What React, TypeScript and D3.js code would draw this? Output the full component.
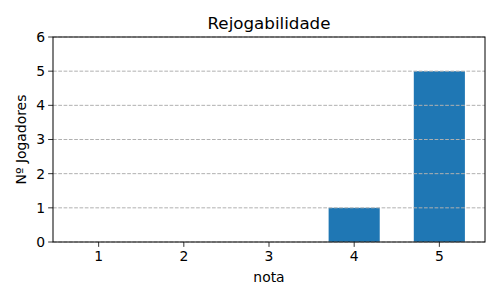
import React from "react";
import * as d3 from "d3";

const categories = [1, 2, 3, 4, 5];
const counts = [0, 0, 0, 1, 5];
const yTicks = [0, 1, 2, 3, 4, 5, 6];
const title = "Rejogabilidade";
const xLabel = "nota";
const yLabel = "Nº Jogadores";

export default function App() {
  const W = 500, H = 300;
  const left = 53, right = 485, top = 37, bottom = 242;
  const x = d3.scaleLinear().domain([0.464, 5.536]).range([left, right]);
  const y = d3.scaleLinear().domain([0, 6]).range([bottom, top]);
  const bw = x(1.3) - x(0.7);
  const font = "DejaVu Sans, sans-serif";
  return (
    <svg width={W} height={H} style={{ position: "absolute", left: 0, top: 0, background: "#fff" }} fontFamily={font}>
      <rect x={0} y={0} width={W} height={H} fill="#fff" />
      {categories.map((c, i) => (
        <rect key={c} x={x(c) - bw / 2} y={y(counts[i])} width={bw} height={y(0) - y(counts[i])} fill="#1f77b4" />
      ))}
      {yTicks.map((t) => (
        <line key={"g" + t} x1={left} x2={right} y1={y(t)} y2={y(t)} stroke="#b0b0b0" strokeWidth={1} strokeDasharray="3.7,1.6" />
      ))}
      <rect x={left} y={top} width={right - left} height={bottom - top} fill="none" stroke="#000" strokeWidth={1} />
      {yTicks.map((t) => (
        <g key={"y" + t}>
          <line x1={left - 4.86} x2={left} y1={y(t)} y2={y(t)} stroke="#000" strokeWidth={0.8} />
          <text x={left - 8} y={y(t)} dy="0.35em" textAnchor="end" fontSize={13.9} fill="#000">{t}</text>
        </g>
      ))}
      {categories.map((c) => (
        <g key={"x" + c}>
          <line x1={x(c)} x2={x(c)} y1={bottom} y2={bottom + 4.86} stroke="#000" strokeWidth={0.8} />
          <text x={x(c)} y={bottom + 8} dy="0.76em" textAnchor="middle" fontSize={13.9} fill="#000">{c}</text>
        </g>
      ))}
      <text x={(left + right) / 2} y={29} textAnchor="middle" fontSize={16.7} fill="#000">{title}</text>
      <text x={(left + right) / 2} y={282} textAnchor="middle" fontSize={13.9} fill="#000">{xLabel}</text>
      <text transform={`translate(26,${(top + bottom) / 2}) rotate(-90)`} textAnchor="middle" fontSize={13.9} fill="#000">{yLabel}</text>
    </svg>
  );
}
